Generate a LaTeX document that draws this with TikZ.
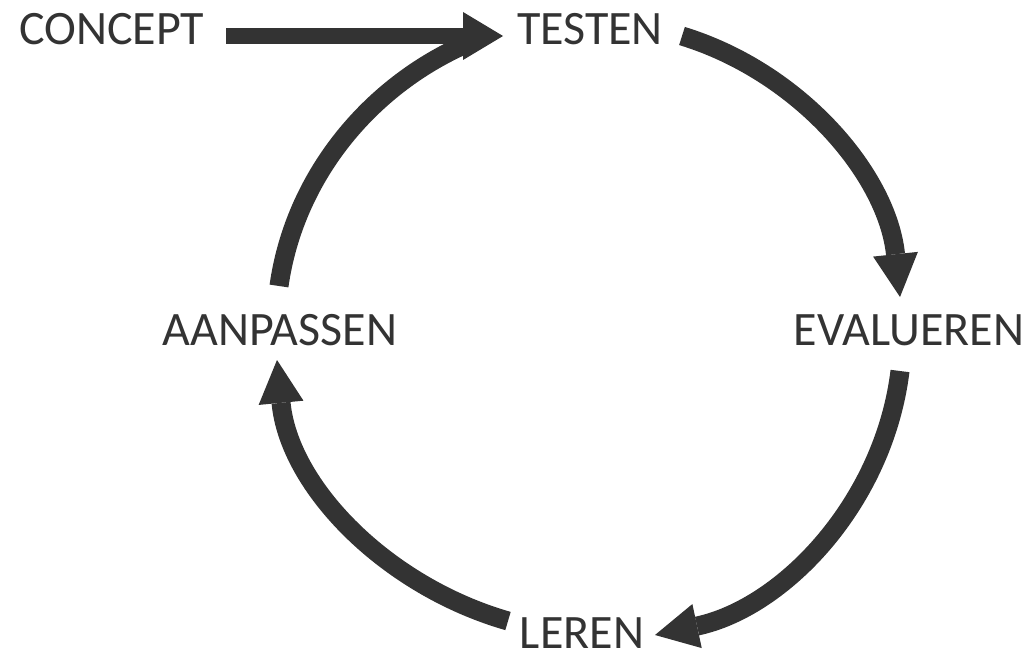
\documentclass[tikz,border=0pt]{standalone}
\usepackage{fontspec}
\setmainfont{Carlito}
\usetikzlibrary{arrows.meta}
\definecolor{ink}{HTML}{333333}
\begin{document}
\begin{tikzpicture}[x=1pt,y=1pt,
  label/.style={anchor=base,inner sep=0pt,text=ink,font=\fontsize{48}{58}\selectfont},
  cycle/.style={draw=ink,line width=19pt,line cap=butt,
    -{Triangle[length=43pt,width=45pt,line width=0pt]}},
  plain/.style={draw=ink,line width=19pt,line cap=butt},
  entry/.style={draw=ink,line width=16pt,line cap=butt,
    -{Triangle[length=40pt,width=48pt,line width=0pt]}}]
\useasboundingbox (0,0) rectangle (1033,-655);

% stage labels
\node[label] (concept)   at (111.5,-45) {CONCEPT};
\node[label] (testen)    at (590,-45)   {TESTEN};
\node[label] (evalueren) at (909,-345)  {EVALUEREN};
\node[label] (aanpassen) at (280,-345)  {AANPASSEN};
\node[label] (leren)     at (582,-648)  {LEREN};

% cycle connectors
\draw[cycle] ([shift={(92,9)}]testen.base)
  .. controls +(-17:123) and +(96:123) .. ([shift={(-9,48)}]evalueren.base);
\draw[cycle] ([shift={(-9,-26)}]evalueren.base)
  .. controls +(-97:132) and +(12:132) .. ([shift={(73,13)}]leren.base);
\draw[cycle] ([shift={(-74,27)}]leren.base)
  .. controls +(164:127) and +(-84.6:127) .. ([shift={(-3,-15)}]aanpassen.base);
\draw[plain] ([shift={(-1,59)}]aanpassen.base)
  .. controls +(82:108) and +(203.8:108) .. ([shift={(-124,1)}]testen.base);

% entry arrow
\draw[entry] ([shift={(114.5,9)}]concept.base) -- ([shift={(-87,9)}]testen.base);
\end{tikzpicture}
\end{document}
